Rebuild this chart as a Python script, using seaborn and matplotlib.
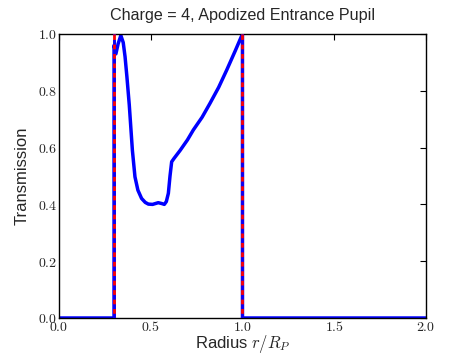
import numpy as np
import pandas as pd
import matplotlib
matplotlib.use('Agg')
import matplotlib.pyplot as plt
import seaborn as sns
from matplotlib.ticker import FormatStrFormatter, MultipleLocator

# transmission profile
radius = [0.0, 0.2999, 0.3, 0.31, 0.322, 0.337, 0.35, 0.36, 0.37, 0.383, 0.40, 0.414,
          0.43, 0.45, 0.47, 0.487, 0.51, 0.541, 0.56, 0.574, 0.585, 0.596, 0.605, 0.614,
          0.627, 0.66, 0.70, 0.732, 0.78, 0.823, 0.87, 0.914, 0.96, 0.9999, 1.0, 2.0]
transmission = [0.0, 0.0, 0.96, 0.93, 0.965, 0.995, 0.97, 0.92, 0.85, 0.75, 0.59, 0.497,
                0.45, 0.421, 0.407, 0.401, 0.40, 0.406, 0.403, 0.40, 0.41, 0.439, 0.50, 0.55,
                0.562, 0.59, 0.627, 0.662, 0.707, 0.756, 0.812, 0.873, 0.94, 1.0, 0.0, 0.0]
stop_edges = [0.3, 1.0]

df = pd.DataFrame({'radius': radius, 'transmission': transmission})

sns.set_style('white')
plt.rcParams['mathtext.fontset'] = 'cm'
plt.rcParams['font.family'] = ['Liberation Sans', 'DejaVu Sans']

fig, ax = plt.subplots(figsize=(4.72, 3.54), dpi=100)
fig.subplots_adjust(left=0.125, right=0.9025, bottom=0.1017, top=0.904)

for e in stop_edges:
    ax.axvline(e, color='red', lw=2, zorder=3)
    ax.axvline(e, color='blue', lw=2, ls=(0, (1.7, 1.7)), zorder=4)

sns.lineplot(data=df, x='radius', y='transmission', color='blue', lw=2.5,
             estimator=None, sort=False, ax=ax, zorder=2)

ax.set_xlim(0, 2)
ax.set_ylim(0, 1)
ax.xaxis.set_major_locator(MultipleLocator(0.5))
ax.yaxis.set_major_locator(MultipleLocator(0.2))
ax.xaxis.set_major_formatter(FormatStrFormatter(r'$%.1f$'))
ax.yaxis.set_major_formatter(FormatStrFormatter(r'$%.1f$'))
ax.tick_params(direction='in', top=True, right=True, length=4, width=0.8,
               labelsize=10, color='black', pad=1.5)
for s in ax.spines.values():
    s.set_color('black')
    s.set_linewidth(1)

ax.set_title('Charge = 4, Apodized Entrance Pupil', fontsize=11.6, pad=10)
ax.set_xlabel(r'Radius $r/R_P$', fontsize=12, labelpad=-1)
ax.set_ylabel('Transmission', fontsize=12, labelpad=6)

fig.savefig('out.png', dpi=100)
